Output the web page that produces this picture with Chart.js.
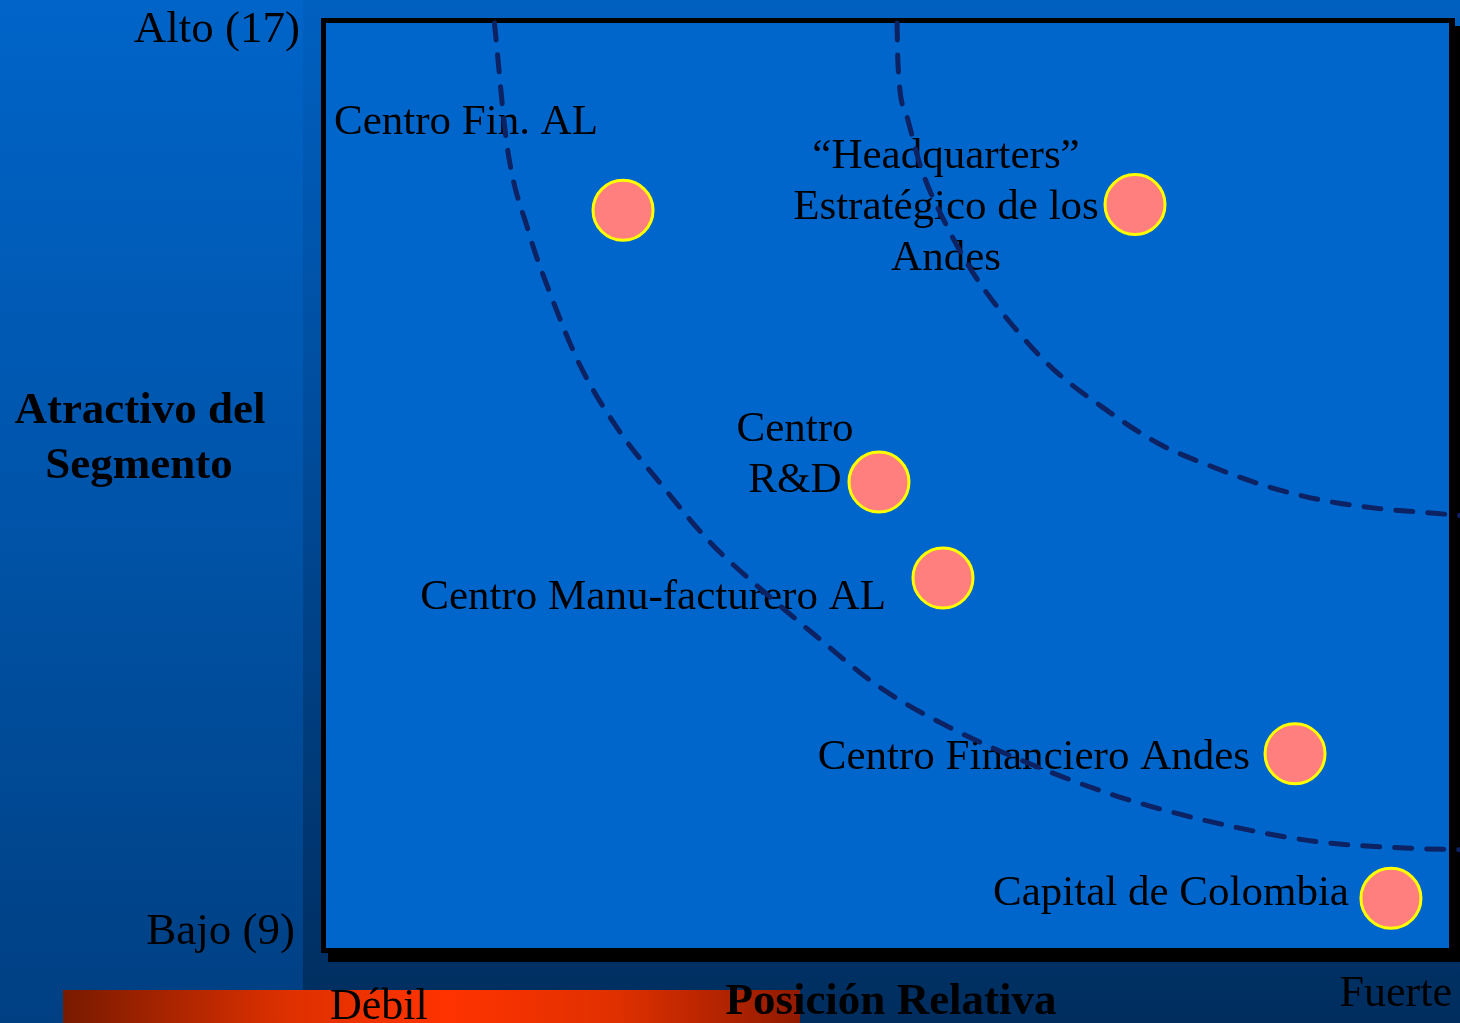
<!DOCTYPE html>
<html lang="es">
<head>
    <meta charset="UTF-8">
    <title>Atractivo vs Posición Relativa</title>
    <script src="https://cdn.jsdelivr.net/npm/chart.js"></script>
    <style>
        html, body { margin: 0; padding: 0; background: #0052a8; overflow: hidden; }
        canvas { display: block; }
    </style>
</head>
<body>
<canvas id="matrixChart" width="1460" height="1023"></canvas>
<script>
    // tick labels
    const yTickLabels = ['Bajo (9)', 'Alto (17)'];
    const xTickLabels = ['Débil', 'Fuerte'];
    const yTitle = ['Atractivo del', 'Segmento'];
    const xTitle = 'Posición Relativa';

    // segments (x = posición relativa 0-10, y = atractivo 9-17)
    const segmentNames = [
        ['Centro Fin. AL'],
        ['“Headquarters”', 'Estratégico de los', 'Andes'],
        ['Centro', 'R&D'],
        ['Centro Manu-facturero AL'],
        ['Centro Financiero Andes'],
        ['Capital de Colombia']
    ];
    const segmentX = [2.645, 7.204, 4.924, 5.494, 8.629, 9.483];
    const segmentY = [15.38, 15.43, 13.03, 12.20, 10.68, 9.43];

    // dashed frontier curves
    const innerCurveX = [1.50, 1.612, 1.799, 2.012, 2.262, 2.591, 3.001, 3.419, 3.865, 4.337, 4.924, 5.548, 6.251, 7.053, 7.934, 8.825, 9.706, 10.098];
    const innerCurveY = [17.00, 15.94, 15.21, 14.62, 14.04, 13.50, 12.99, 12.51, 12.11, 11.72, 11.26, 10.91, 10.60, 10.31, 10.08, 9.92, 9.86, 9.85];
    const outerCurveX = [5.085, 5.093, 5.165, 5.298, 5.530, 5.788, 6.153, 6.483, 6.910, 7.400, 7.898, 8.388, 8.887, 9.377, 9.875, 10.098];
    const outerCurveY = [17.00, 16.65, 16.22, 15.75, 15.24, 14.80, 14.34, 14.00, 13.68, 13.37, 13.16, 12.99, 12.87, 12.80, 12.76, 12.74];

    // label placement relative to each circle (pixels)
    const labelLayout = [
        { align: 'left',   dx: -289, dy: -88 },
        { align: 'center', dx: -189, dy: -48 },
        { align: 'center', dx: -84,  dy: -52 },
        { align: 'right',  dx: -57,  dy: 20 },
        { align: 'right',  dx: -45,  dy: 4 },
        { align: 'right',  dx: -42,  dy: -5 }
    ];

    const SERIF = '"Liberation Serif", "Times New Roman", serif';

    function toPoints(xs, ys) {
        return xs.map((x, i) => ({ x: x, y: ys[i] }));
    }

    // background, panel, framed plot box
    const backdrop = {
        id: 'backdrop',
        beforeDraw(chart) {
            const ctx = chart.ctx;
            const a = chart.chartArea;
            const W = chart.width, H = chart.height;
            ctx.save();
            let g = ctx.createLinearGradient(0, 0, 0, H);
            g.addColorStop(0, '#0064c8');
            g.addColorStop(0.5, '#0054a9');
            g.addColorStop(1, '#003f82');
            ctx.fillStyle = g;
            ctx.fillRect(0, 0, W, H);

            g = ctx.createLinearGradient(0, 0, 0, H);
            g.addColorStop(0, '#0060c0');
            g.addColorStop(0.4, '#004d9e');
            g.addColorStop(1, '#002d5e');
            ctx.fillStyle = g;
            ctx.fillRect(303, 0, W - 303, H);

            // orange bar at the bottom
            g = ctx.createLinearGradient(63, 0, 800, 0);
            g.addColorStop(0, '#781a00');
            g.addColorStop(0.3, '#dd3000');
            g.addColorStop(0.52, '#ff3300');
            g.addColorStop(0.75, '#e03000');
            g.addColorStop(1, '#901a00');
            ctx.fillStyle = g;
            ctx.fillRect(63, 990, 737, H - 990);

            // frame + shadow
            ctx.fillStyle = '#000000';
            ctx.fillRect(a.left - 5, a.top - 5, a.right - a.left + 11, a.bottom - a.top + 10);
            ctx.fillRect(a.left + 2, a.top + 3, W - a.left - 2, a.bottom - a.top + 11);
            ctx.fillStyle = '#0066cc';
            ctx.fillRect(a.left, a.top, a.right - a.left, a.bottom - a.top);
            ctx.restore();
        },
        beforeDatasetsDraw(chart) {
            const ctx = chart.ctx;
            const xs = chart.scales.x, ys = chart.scales.y;
            ctx.save();
            ctx.fillStyle = '#000000';
            ctx.textBaseline = 'middle';

            // segment labels
            ctx.font = '43px ' + SERIF;
            segmentNames.forEach((lines, i) => {
                const px = xs.getPixelForValue(segmentX[i]);
                const py = ys.getPixelForValue(segmentY[i]);
                const l = labelLayout[i];
                ctx.textAlign = l.align;
                lines.forEach((t, k) => {
                    ctx.fillText(t, px + l.dx, py + l.dy + k * 51);
                });
            });

            // axis ticks
            ctx.font = '45px ' + SERIF;
            ctx.textAlign = 'right';
            ctx.fillText(yTickLabels[1], 300, 30);
            ctx.fillText(yTickLabels[0], 295, 932);
            ctx.font = '44px ' + SERIF;
            ctx.textAlign = 'left';
            ctx.fillText(xTickLabels[0], 330, 1007);
            ctx.textAlign = 'right';
            ctx.fillText(xTickLabels[1], 1452, 994);

            // axis titles
            ctx.font = 'bold 45px ' + SERIF;
            ctx.textAlign = 'center';
            ctx.fillText(yTitle[0], 140, 411);
            ctx.fillText(yTitle[1], 139, 466);
            ctx.fillText(xTitle, 891, 1002);
            ctx.restore();
        }
    };

    const curveStyle = {
        showLine: true,
        pointRadius: 0,
        borderColor: '#0c2262',
        borderWidth: 5,
        borderDash: [17, 15],
        borderCapStyle: 'round',
        cubicInterpolationMode: 'monotone',
        clip: false,
        order: 2
    };

    const ctx = document.getElementById('matrixChart').getContext('2d');
    const matrixChart = new Chart(ctx, {
        type: 'scatter',
        data: {
            datasets: [
                Object.assign({ label: 'frontera 1', data: toPoints(innerCurveX, innerCurveY) }, curveStyle),
                Object.assign({ label: 'frontera 2', data: toPoints(outerCurveX, outerCurveY) }, curveStyle),
                {
                    label: 'segmentos',
                    data: toPoints(segmentX, segmentY),
                    pointRadius: 30,
                    pointBackgroundColor: '#ff7f7f',
                    pointBorderColor: '#ffff00',
                    pointBorderWidth: 3,
                    clip: false,
                    order: 0
                }
            ]
        },
        options: {
            responsive: false,
            animation: false,
            devicePixelRatio: 1,
            layout: { autoPadding: false, padding: { left: 326, right: 11, top: 23, bottom: 75 } },
            plugins: {
                legend: { display: false },
                tooltip: { enabled: false }
            },
            scales: {
                x: { type: 'linear', min: 0, max: 10, display: false },
                y: { type: 'linear', min: 9, max: 17, display: false }
            }
        },
        plugins: [backdrop]
    });
</script>
</body>
</html>
